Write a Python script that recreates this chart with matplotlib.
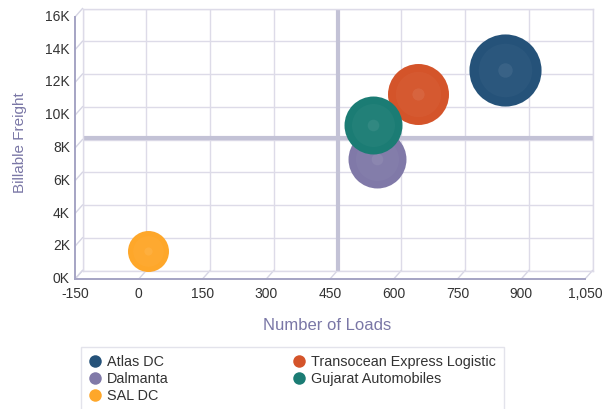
import numpy as np
import matplotlib
matplotlib.use("Agg")
import matplotlib.pyplot as plt
from matplotlib.lines import Line2D
from matplotlib.transforms import ScaledTranslation

plt.rcParams['font.family'] = ['Liberation Sans', 'DejaVu Sans']

# data
names = ["Atlas DC", "Transocean Express Logistic", "Dalmanta", "Gujarat Automobiles", "SAL DC"]
loads = [843, 639, 544, 534, 5]
freight = [12250, 10750, 6800, 8880, 1200]
bubble_size = [1300, 930, 840, 840, 420]
colors = ["#255279", "#d4542a", "#8079a8", "#1b7c74", "#fea72a"]

x_ticks = [-150, 0, 150, 300, 450, 600, 750, 900, 1050]
x_labels = ["-150", "0", "150", "300", "450", "600", "750", "900", "1,050"]
y_ticks = [0, 2000, 4000, 6000, 8000, 10000, 12000, 14000, 16000]
y_labels = ["0K", "2K", "4K", "6K", "8K", "10K", "12K", "14K", "16K"]
ref_x = 450
ref_y = 8100

W, H = 611, 409
fig = plt.figure(figsize=(W / 100, H / 100), dpi=100)
# back wall of the pseudo-3d plot
ax = fig.add_axes([82.5 / W, 1 - 270.5 / H, 510 / W, 262 / H])
xmin, xmax = -150, 1050
ymin, ymax = 0, 16000
ax.set_xlim(xmin, xmax)
ax.set_ylim(ymin, ymax)
ax.set_xticks(x_ticks)
ax.set_yticks(y_ticks)
ax.tick_params(length=0, labelbottom=False, labelleft=False)
ax.grid(True, color="#dddbe8", lw=1)
for s in ax.spines.values():
    s.set_color("#dddbe8")
    s.set_linewidth(1)

# depth offset (front plane vs back wall) in data units
DX = -7.5 / 510 * (xmax - xmin)
DY = -8.5 / 262 * (ymax - ymin)
front_col = "#a5a4c4"
dia_col = "#d6d5e4"

# floor + left side
ax.plot([xmin + DX, xmax + DX], [DY, DY], color=front_col, lw=1.4, clip_on=False, zorder=3)
ax.plot([xmin + DX, xmin + DX], [DY, ymax + DY], color=front_col, lw=1.4, clip_on=False, zorder=3)
for x in x_ticks:
    ax.plot([x, x + DX], [0, DY], color=dia_col, lw=1, clip_on=False, zorder=2)
for y in y_ticks:
    ax.plot([xmin, xmin + DX], [y, y + DY], color=dia_col, lw=1, clip_on=False, zorder=2)

# reference lines
ax.axvline(ref_x, color="#c3c2d6", lw=3, zorder=2)
ax.axhline(ref_y, color="#c3c2d6", lw=3, zorder=2)

# bubbles
k = (2 * 0.72) ** 2
for i in range(len(names)):
    ax.scatter(loads[i], freight[i], s=bubble_size[i] * k, color=colors[i], lw=0, zorder=4)
    ax.scatter(loads[i], freight[i], s=bubble_size[i] * k * 0.55, color="white", alpha=0.03, lw=0, zorder=4)
    ax.scatter(loads[i], freight[i], s=bubble_size[i] * k * 0.04, color="white", alpha=0.07, lw=0, zorder=4)

# tick labels on the front plane
tx = ax.transData + ScaledTranslation(0, -15 / 100, fig.dpi_scale_trans)
for x, lab in zip(x_ticks, x_labels):
    ax.text(x + DX, DY, lab, transform=tx, ha="center", va="center", fontsize=10, color="#333333")
ty = ax.transData + ScaledTranslation(-5 / 100, 0, fig.dpi_scale_trans)
for y, lab in zip(y_ticks, y_labels):
    ax.text(xmin + DX, y + DY, lab, transform=ty, ha="right", va="center", fontsize=10, color="#333333")

fig.text(327 / W, 1 - 325.5 / H, "Number of Loads", ha="center", va="center", fontsize=12, color="#7a77a6")
fig.text(20 / W, 1 - 143 / H, "Billable Freight", ha="center", va="center", rotation=90, fontsize=11, color="#7a77a6")

# legend filled row by row (matplotlib fills columns first)
order = [0, 2, 4, 1, 3]
handles = [Line2D([], [], ls="", marker="o", markersize=9, markerfacecolor=colors[i], markeredgewidth=0) for i in order]
leg = fig.legend(handles, [names[i] for i in order], loc="upper left", bbox_to_anchor=(81 / W, 1 - 347 / H), ncol=2,
                 frameon=True, fancybox=False, fontsize=10.4, handlelength=0.85, handletextpad=0.4,
                 columnspacing=8.6, labelspacing=0.22, borderpad=0.55, borderaxespad=0)
leg.get_frame().set_edgecolor("#dcdce6")
leg.get_frame().set_linewidth(1)
for t in leg.get_texts():
    t.set_color("#333333")

fig.savefig("out.png", dpi=100)
